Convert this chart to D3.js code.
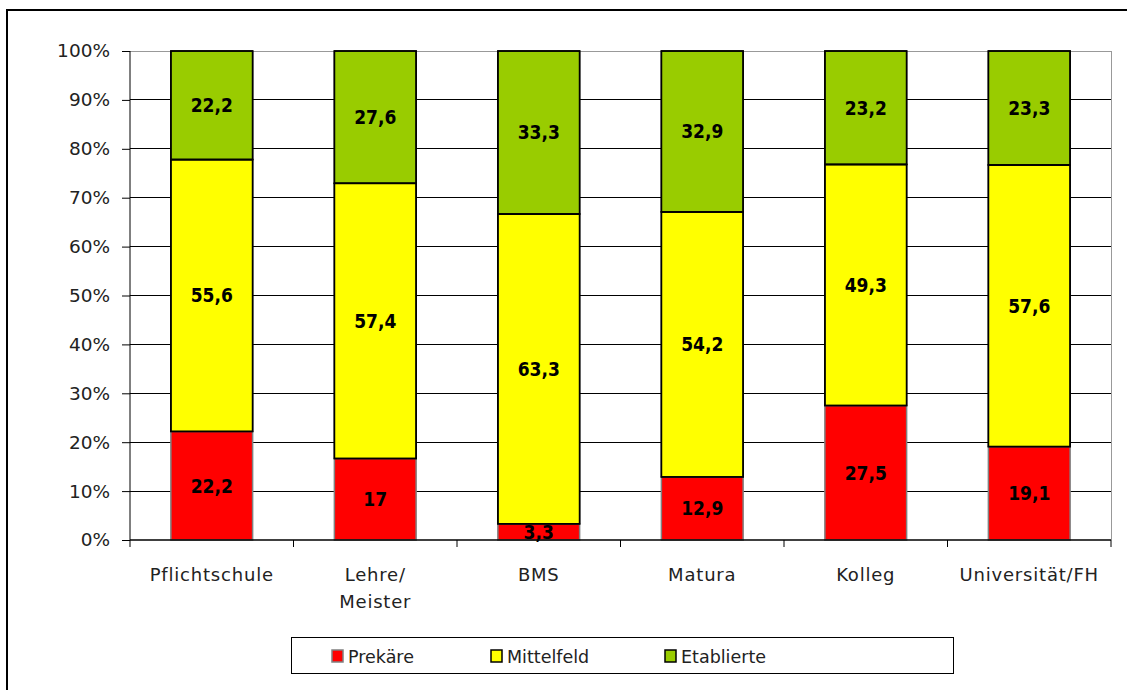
<!DOCTYPE html>
<html><head><meta charset="utf-8">
<script src="https://cdn.jsdelivr.net/npm/d3@7"></script>
<style>body{margin:0;background:#fff}svg{display:block}</style>
</head><body>
<svg id="c" width="1127" height="690"></svg>
<script>
const categories = ["Pflichtschule", "Lehre/\nMeister", "BMS", "Matura", "Kolleg", "Universität/FH"];
const seriesNames = ["Prekäre", "Mittelfeld", "Etablierte"];
const prekaere   = [22.2, 17, 3.3, 12.9, 27.5, 19.1];
const mittelfeld = [55.6, 57.4, 63.3, 54.2, 49.3, 57.6];
const etablierte = [22.2, 27.6, 33.3, 32.9, 23.2, 23.3];
const yTicks = [0, 10, 20, 30, 40, 50, 60, 70, 80, 90, 100];
const colors = ["#FF0000", "#FFFF00", "#99CC00"];
const strokes = ["#808080", "#000000", "#000000"];

const svg = d3.select("#c");
const axisFont = "'DejaVu Sans', sans-serif";
const labelFont = "'DejaVu Sans Condensed', 'DejaVu Sans', sans-serif";
const m = {l:130, r:1111, t:51, b:540};

svg.append("rect").attr("x",7).attr("y",10).attr("width",1140).attr("height",700)
  .attr("fill","none").attr("stroke","#000").attr("stroke-width",2);

const x = d3.scaleBand().domain(d3.range(categories.length)).range([m.l, m.r]).paddingInner(0.5).paddingOuter(0.25);
const xb = d3.scaleBand().domain(d3.range(categories.length)).range([m.l, m.r]);
const y = d3.scaleLinear().domain([0,100]).range([m.b, m.t]);

// gridlines
svg.append("g").selectAll("line").data(yTicks.filter(d=>d>0)).join("line")
  .attr("x1",m.l).attr("x2",m.r).attr("y1",d=>y(d)).attr("y2",d=>y(d))
  .attr("stroke", d=> d===100 ? "#999" : "#000").attr("stroke-width",1).attr("shape-rendering","crispEdges");
svg.append("line").attr("x1",m.r).attr("x2",m.r).attr("y1",m.t).attr("y2",m.b)
  .attr("stroke","#999").attr("shape-rendering","crispEdges");

// stacks
const data = categories.map((c,i)=>{
  const vals = [prekaere[i], mittelfeld[i], etablierte[i]];
  const tot = d3.sum(vals);
  let acc = 0;
  return vals.map((v,k)=>{ const s = {i, k, v, y0: acc/tot*100, y1: (acc+v)/tot*100}; acc += v; return s; });
}).flat();

const g = svg.append("g");
g.selectAll("rect").data(data).join("rect")
  .attr("x", d=>x(d.i)).attr("width", x.bandwidth())
  .attr("y", d=>y(d.y1)).attr("height", d=>y(d.y0)-y(d.y1))
  .attr("fill", d=>colors[d.k]).attr("stroke", d=>strokes[d.k]).attr("stroke-width",1.5);
g.selectAll("rect.o").data(data.filter(d=>d.k>0)).join("rect").attr("class","o")
  .attr("x", d=>x(d.i)).attr("width", x.bandwidth())
  .attr("y", d=>y(d.y1)).attr("height", d=>y(d.y0)-y(d.y1))
  .attr("fill","none").attr("stroke","#000").attr("stroke-width",1.5);

g.selectAll("text").data(data).join("text")
  .attr("x", d=>x(d.i)+x.bandwidth()/2).attr("y", d=>(y(d.y0)+y(d.y1))/2)
  .attr("dy","0.36em").attr("text-anchor","middle")
  .attr("font-family",labelFont).attr("font-weight","bold").attr("font-size",19)
  .text(d=>String(d.v).replace(".",","));

// axes
const ya = svg.append("g").attr("transform",`translate(${m.l},0)`)
  .call(d3.axisLeft(y).tickValues(yTicks).tickSize(8).tickPadding(12).tickFormat(d=>d+"%"));
ya.select(".domain").attr("stroke","#000").attr("d",`M0,${m.t}V${m.b}`);
ya.selectAll(".tick line").attr("stroke","#000");
ya.selectAll("text").attr("font-family",axisFont).attr("font-size",18.5).attr("fill","#222");

svg.append("line").attr("x1",m.l).attr("x2",m.r).attr("y1",m.b).attr("y2",m.b).attr("stroke","#000").attr("stroke-width",1.5);
svg.append("g").selectAll("line").data(d3.range(categories.length+1)).join("line")
  .attr("x1",d=>m.l+d*xb.bandwidth()).attr("x2",d=>m.l+d*xb.bandwidth())
  .attr("y1",m.b).attr("y2",m.b+7).attr("stroke","#000");

const cl = svg.append("g").selectAll("text").data(categories).join("text")
  .attr("x",(d,i)=>xb(i)+xb.bandwidth()/2).attr("y",581).attr("text-anchor","middle")
  .attr("font-family",axisFont).attr("font-size",18).attr("letter-spacing",0.8).attr("fill","#222");
cl.each(function(d){ const t=d3.select(this); d.split("\n").forEach((s,j)=>t.append("tspan").attr("x",t.attr("x")).attr("dy",j?27:0).text(s)); });

// legend
svg.append("rect").attr("x",291.5).attr("y",637.5).attr("width",662).attr("height",36).attr("fill","#fff").attr("stroke","#000");
const lx = [332, 491, 665];
const lg = svg.append("g").selectAll("g").data(seriesNames).join("g").attr("transform",(d,i)=>`translate(${lx[i]},650)`);
lg.append("rect").attr("width",11).attr("height",12).attr("fill",(d,i)=>colors[i]).attr("stroke",(d,i)=>strokes[i]).attr("stroke-width",1.5);
lg.append("text").attr("x",16).attr("y",13).attr("font-family",axisFont).attr("font-size",17.5).attr("fill","#222").text(d=>d);
</script>
</body></html>
